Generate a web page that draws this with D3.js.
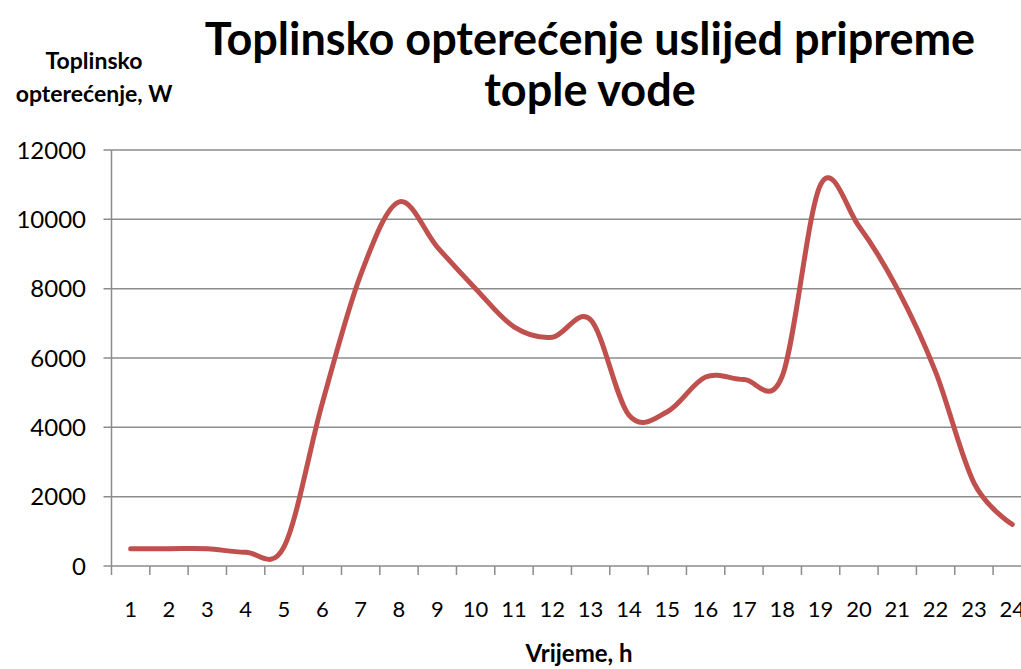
<!DOCTYPE html>
<html>
<head>
<meta charset="utf-8">
<script src="https://cdn.jsdelivr.net/npm/d3@7"></script>
<style>
  html, body { margin: 0; padding: 0; background: #fff; overflow: hidden; }
  svg { display: block; font-family: Lato, "Open Sans", sans-serif; }
</style>
</head>
<body>
<div id="chart"></div>
<script>
// sati 1..24 i toplinsko opterecenje (W)
const hours = d3.range(1, 25).map(String);
const loadW = [500, 500, 500, 400, 550, 4700, 8400, 10500, 9200, 8000, 6900, 6600,
               7100, 4350, 4450, 5450, 5380, 5480, 11000, 9800, 8000, 5600, 2400, 1200];
const yTicks = [0, 2000, 4000, 6000, 8000, 10000, 12000];

const titleLines = ["Toplinsko opterećenje uslijed pripreme", "tople vode"];
const yTitleLines = ["Toplinsko", "opterećenje, W"];
const xTitle = "Vrijeme, h";

(function () {
  const W = 1021, H = 669;
  const m = { left: 111.5, top: 150, bottom: 566 };
  const step = 38.33;
  const right = m.left + step * hours.length;

  const svg = d3.select("#chart").append("svg")
    .attr("width", W).attr("height", H);

  const x = d3.scaleBand().domain(hours).range([m.left, right]).padding(0);
  const y = d3.scaleLinear().domain([0, 12000]).range([m.bottom, m.top]);

  // gridlines + y ticks
  svg.append("g")
    .selectAll("line")
    .data(yTicks)
    .join("line")
    .attr("x1", m.left - 8).attr("x2", right)
    .attr("y1", d => y(d)).attr("y2", d => y(d))
    .attr("stroke", "#8c8c8c").attr("stroke-width", 1.5);

  // y axis line
  svg.append("line")
    .attr("x1", m.left).attr("x2", m.left)
    .attr("y1", m.top).attr("y2", m.bottom)
    .attr("stroke", "#8c8c8c").attr("stroke-width", 1.5);

  // y labels
  svg.append("g")
    .selectAll("text")
    .data(yTicks)
    .join("text")
    .attr("x", 86).attr("y", d => y(d))
    .attr("dy", "0.36em")
    .attr("text-anchor", "end")
    .attr("font-size", 24)
    .attr("fill", "#000")
    .text(d => d);

  // x tick marks at band edges
  const edges = hours.map(h => x(h)).concat([right]);
  svg.append("g")
    .selectAll("line")
    .data(edges)
    .join("line")
    .attr("x1", d => d).attr("x2", d => d)
    .attr("y1", m.bottom).attr("y2", m.bottom + 9)
    .attr("stroke", "#8c8c8c").attr("stroke-width", 1.5);

  // x labels
  svg.append("g")
    .selectAll("text")
    .data(hours)
    .join("text")
    .attr("x", d => x(d) + x.bandwidth() / 2)
    .attr("y", 617)
    .attr("text-anchor", "middle")
    .attr("font-size", 22)
    .attr("fill", "#000")
    .text(d => d);

  // linija (Excel smoothing ~ catmull-rom uniform)
  const line = d3.line()
    .x((d, i) => x(hours[i]) + x.bandwidth() / 2)
    .y(d => y(d))
    .curve(d3.curveCardinal.tension(0));

  svg.append("path")
    .datum(loadW)
    .attr("d", line)
    .attr("fill", "none")
    .attr("stroke", "#C0504D")
    .attr("stroke-width", 5)
    .attr("stroke-linejoin", "round")
    .attr("stroke-linecap", "round");

  // naslov
  svg.append("g")
    .selectAll("text")
    .data(titleLines)
    .join("text")
    .attr("x", 590).attr("y", (d, i) => 55 + i * 51)
    .attr("text-anchor", "middle")
    .attr("font-size", 45)
    .attr("font-weight", "bold")
    .text(d => d);

  svg.append("g")
    .selectAll("text")
    .data(yTitleLines)
    .join("text")
    .attr("x", 94).attr("y", (d, i) => 69 + i * 32.5)
    .attr("text-anchor", "middle")
    .attr("font-size", 23)
    .attr("font-weight", "bold")
    .text(d => d);

  svg.append("text")
    .attr("x", 579).attr("y", 662)
    .attr("text-anchor", "middle")
    .attr("font-size", 24)
    .attr("font-weight", "bold")
    .text(xTitle);
})();
</script>
</body>
</html>
